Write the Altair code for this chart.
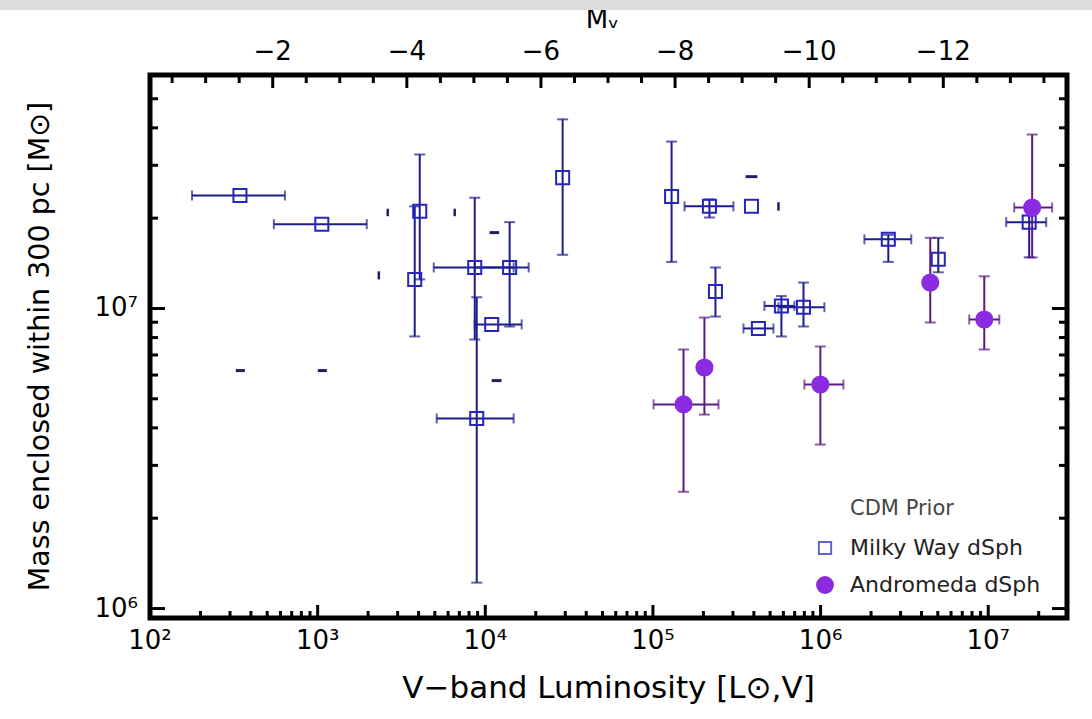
import altair as alt
import pandas as pd

# ---------------- data ----------------
# Milky Way dSphs (open squares)
mw_L    = [344, 1059, 4064, 3793, 8890, 8650, 13970, 10920, 28930, 129200, 217300, 387000, 236000, 425700, 583900, 790700, 2535000, 5034000, 17550000]
mw_L_lo = [178, 548, None, None, 5130, 4925, 8650, 8650, None, None, 154300, None, None, 346700, 462400, 560700, 1825000, None, 12800000]
mw_L_hi = [638, 1963, None, None, 14760, 14760, 18150, 16480, None, None, 302000, None, None, 523400, 698000, 1054000, 3475000, None, 22170000]
mw_M    = [2.38e7, 1.91e7, 2.11e7, 1.25e7, 4.30e6, 1.37e7, 1.37e7, 8.85e6, 2.73e7, 2.36e7, 2.19e7, 2.19e7, 1.14e7, 8.58e6, 1.02e7, 1.01e7, 1.70e7, 1.46e7, 1.94e7]
mw_M_lo = [None, None, 1.25e7, 8.07e6, 1.22e6, 7.88e6, 8.71e6, None, 1.51e7, 1.43e7, 2.01e7, None, 9.4e6, None, 8.07e6, 8.71e6, 1.43e7, 1.32e7, 1.48e7]
mw_M_hi = [None, None, 3.26e7, 2.19e7, 1.09e7, 2.34e7, 1.94e7, None, 4.27e7, 3.60e7, 2.31e7, None, 1.37e7, None, 1.10e7, 1.22e7, 1.76e7, 1.72e7, 2.19e7]

# Andromeda dSphs (filled circles)
m31_L    = [18280000, 4510000, 9470000, 152200, 202800, 997000]
m31_L_lo = [14290000, None, 7702000, 100900, None, 800400]
m31_L_hi = [24060000, None, 11640000, 246000, None, 1368000]
m31_M    = [2.17e7, 1.22e7, 9.19e6, 4.79e6, 6.36e6, 5.58e6]
m31_M_lo = [1.48e7, 8.98e6, 7.30e6, 2.45e6, 4.43e6, 3.52e6]
m31_M_hi = [3.80e7, 1.72e7, 1.28e7, 7.30e6, 9.33e6, 7.47e6]

# faint tiny marks without symbols
vt_L    = [2620, 2317, 6570, 560700]
vt_M_lo = [2.03e7, 1.25e7, 2.03e7, 2.12e7]
vt_M_hi = [2.15e7, 1.33e7, 2.15e7, 2.26e7]
hd_L_lo = [325, 1002, 10920, 10600, 356600]
hd_L_hi = [368, 1135, 12490, 12100, 420000]
hd_M    = [6.21e6, 6.21e6, 5.75e6, 1.79e7, 2.75e7]

# axis tick labels and texts
x_major = [1e2, 1e3, 1e4, 1e5, 1e6, 1e7]
x_labels = ["10²", "10³", "10⁴", "10⁵", "10⁶", "10⁷"]
y_major = [1e6, 1e7]
y_labels = ["10⁶", "10⁷"]
mv_major = [-2, -4, -6, -8, -10, -12]
mv_labels = ["−2", "−4", "−6", "−8", "−10", "−12"]
x_title = "V−band Luminosity [L⊙,V]"
y_title = "Mass enclosed within 300 pc [M⊙]"
top_title = "Mᵥ"
legend_title = "CDM Prior"
legend_names = ["Milky Way dSph", "Andromeda dSph"]

# ---------------- layout / style ----------------
W, H = 917, 543
XMIN, XMAX = 100, 2.95e7
YMIN, YMAX = 9.3e5, 6.0e7
FONT = "DejaVu Sans"
MW_BAR, MW_SYM = "#1c1c8c", "#2525c0"
M31_BAR, M31_SYM = "#5e1a80", "#8a2be2"
MSUN_V = 4.83

xs = alt.Scale(type="log", domain=[XMIN, XMAX], nice=False)
ys = alt.Scale(type="log", domain=[YMIN, YMAX], nice=False)

def X(f):
    return alt.X(f, type="quantitative", scale=xs, axis=None)

def Y(f):
    return alt.Y(f, type="quantitative", scale=ys, axis=None)

def table(L, Llo, Lhi, M, Mlo, Mhi):
    return pd.DataFrame({"L": L, "Llo": Llo, "Lhi": Lhi, "M": M, "Mlo": Mlo, "Mhi": Mhi}).astype(float)

mw = table(mw_L, mw_L_lo, mw_L_hi, mw_M, mw_M_lo, mw_M_hi)
m31 = table(m31_L, m31_L_lo, m31_L_hi, m31_M, m31_M_lo, m31_M_hi)

def errbars(df, color):
    ye = df.dropna(subset=["Mlo", "Mhi"])
    xe = df.dropna(subset=["Llo", "Lhi"])
    out = []
    b = alt.Chart(ye)
    out.append(b.mark_rule(color=color, strokeWidth=2).encode(x=X("L"), y=Y("Mlo"), y2="Mhi"))
    for f in ["Mlo", "Mhi"]:
        out.append(b.mark_tick(color=color, orient="horizontal", size=11, thickness=2).encode(x=X("L"), y=Y(f)))
    b = alt.Chart(xe)
    out.append(b.mark_rule(color=color, strokeWidth=2).encode(x=X("Llo"), x2="Lhi", y=Y("M")))
    for f in ["Llo", "Lhi"]:
        out.append(b.mark_tick(color=color, orient="vertical", size=10, thickness=2).encode(x=X(f), y=Y("M")))
    return out

layers = []
layers += errbars(mw, MW_BAR)
layers.append(alt.Chart(mw).mark_point(shape="square", filled=False, color=MW_SYM, size=170,
                                       strokeWidth=2, opacity=1).encode(x=X("L"), y=Y("M")))

# faint marks
vt = pd.DataFrame({"L": vt_L, "Mlo": vt_M_lo, "Mhi": vt_M_hi})
hd = pd.DataFrame({"Llo": hd_L_lo, "Lhi": hd_L_hi, "M": hd_M})
layers.append(alt.Chart(vt).mark_rule(color="#202060", strokeWidth=2.5).encode(x=X("L"), y=Y("Mlo"), y2="Mhi"))
layers.append(alt.Chart(hd).mark_rule(color="#202060", strokeWidth=3).encode(x=X("Llo"), x2="Lhi", y=Y("M")))

layers += errbars(m31, M31_BAR)
layers.append(alt.Chart(m31).mark_circle(color=M31_SYM, size=330, opacity=1).encode(x=X("L"), y=Y("M")))

# ---------------- inward axis ticks drawn as rules ----------------
x_minor = [k * 10 ** d for d in range(2, 8) for k in range(2, 10) if XMIN < k * 10 ** d < XMAX]
y_minor = [k * 10 ** d for d in range(5, 8) for k in range(2, 10) if YMIN < k * 10 ** d < YMAX]
mv_minor = [-(0.5 * i) for i in range(1, 28) if (i % 4) != 0]
top_major_L = [10 ** ((MSUN_V - m) / 2.5) for m in mv_major]
top_minor_L = [v for v in (10 ** ((MSUN_V - m) / 2.5) for m in mv_minor) if XMIN < v < XMAX]

def xticks(vals, y0, y1):
    return alt.Chart(pd.DataFrame({"v": vals})).mark_rule(color="black", strokeWidth=3).encode(
        x=X("v"), y=alt.value(y0), y2=alt.value(y1))

def yticks(vals, x0, x1):
    return alt.Chart(pd.DataFrame({"v": vals})).mark_rule(color="black", strokeWidth=3).encode(
        y=Y("v"), x=alt.value(x0), x2=alt.value(x1))

layers += [
    xticks(x_major, H, H - 13), xticks(x_minor, H, H - 7),
    xticks(top_major_L, 0, 13), xticks(top_minor_L, 0, 8),
    yticks(y_major, 0, 15), yticks(y_minor, 0, 8),
    yticks(y_major, W, W - 15), yticks(y_minor, W, W - 8),
]

# ---------------- tick labels and titles ----------------
layers.append(alt.Chart(pd.DataFrame({"v": x_major, "t": x_labels})).mark_text(
    font=FONT, fontSize=26, color="black", align="center", baseline="top").encode(
    x=X("v"), y=alt.value(H + 10), text="t:N"))
layers.append(alt.Chart(pd.DataFrame({"v": y_major, "t": y_labels})).mark_text(
    font=FONT, fontSize=26, color="black", align="right", baseline="middle").encode(
    y=Y("v"), x=alt.value(-12), text="t:N"))
layers.append(alt.Chart(pd.DataFrame({"v": top_major_L, "t": mv_labels})).mark_text(
    font=FONT, fontSize=26, color="black", align="center", baseline="bottom").encode(
    x=X("v"), y=alt.value(-10), text="t:N"))

one = alt.Data(values=[{}])
layers += [
    alt.Chart(one).mark_text(text=x_title, font=FONT, fontSize=31, color="black", align="center", baseline="middle").encode(
        x=alt.value(W / 2), y=alt.value(H + 71)),
    alt.Chart(one).mark_text(text=y_title, font=FONT, fontSize=28.5, color="black", align="center", baseline="middle",
                             angle=270).encode(x=alt.value(-110), y=alt.value(H / 2)),
    alt.Chart(one).mark_text(text=top_title, font=FONT, fontSize=26, color="black", align="center", baseline="middle").encode(
        x=alt.value(W / 2 - 6), y=alt.value(-55)),
]

# ---------------- manual legend ----------------
LX, LY = 700, 434
layers += [
    alt.Chart(one).mark_text(text=legend_title, font=FONT, fontSize=21, color="#444444", align="left", baseline="middle").encode(
        x=alt.value(LX), y=alt.value(LY)),
    alt.Chart(one).mark_point(shape="square", filled=False, color=MW_SYM, size=150, strokeWidth=2).encode(
        x=alt.value(LX - 25), y=alt.value(LY + 39)),
    alt.Chart(one).mark_text(text=legend_names[0], font=FONT, fontSize=22, color="#222222", align="left", baseline="middle").encode(
        x=alt.value(LX), y=alt.value(LY + 39)),
    alt.Chart(one).mark_circle(color=M31_SYM, size=320, opacity=1).encode(
        x=alt.value(LX - 25), y=alt.value(LY + 76)),
    alt.Chart(one).mark_text(text=legend_names[1], font=FONT, fontSize=22, color="#222222", align="left", baseline="middle").encode(
        x=alt.value(LX), y=alt.value(LY + 76)),
    # light grey strip along the very top of the page
    alt.Chart(one).mark_rect(color="#dcdcdc").encode(
        x=alt.value(-150), x2=alt.value(W + 25), y=alt.value(-75), y2=alt.value(-65)),
]

chart = alt.layer(*layers).properties(
    width=W, height=H,
    padding={"left": 150, "top": 75, "right": 25, "bottom": 101},
    autosize=alt.AutoSizeParams(type="none"),
    background="white",
).configure_view(stroke="black", strokeWidth=5)

chart.save("out.html", embed_options={"renderer": "svg", "actions": False})
